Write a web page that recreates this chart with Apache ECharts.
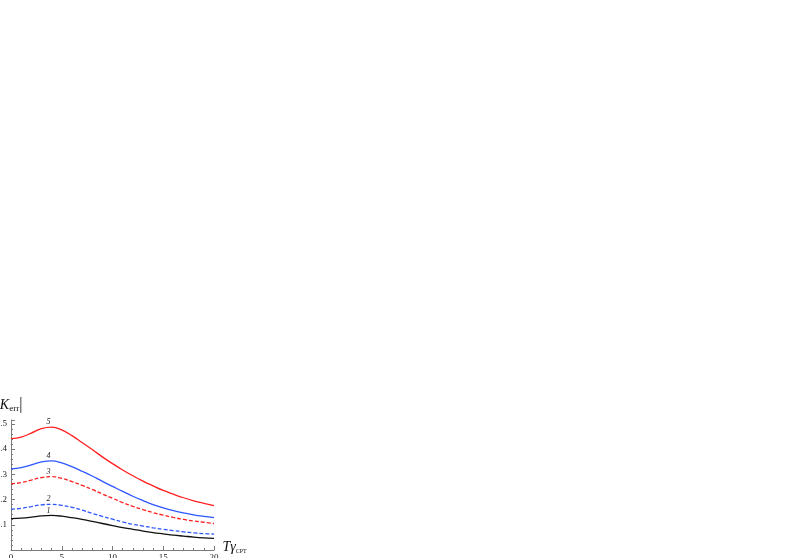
<!DOCTYPE html>
<html>
<head>
<meta charset="utf-8">
<script src="https://cdn.jsdelivr.net/npm/echarts@6/dist/echarts.min.js"></script>
<style>
  html, body { margin: 0; padding: 0; background: #fff; }
  #myLine { width: 789px; height: 558px; }
</style>
</head>
<body>
<div id="myLine"></div>
<script>
// x values of the sampled points (T·γ_CPT)
const xs = [0, 1, 2, 3, 4, 5, 6, 7, 8, 9, 10, 11, 12, 13, 14, 15, 16, 17, 18, 19, 20];
// |K_err| for curves 1..5
const curve1 = [0.124, 0.126, 0.130, 0.135, 0.137, 0.134, 0.128, 0.121, 0.113, 0.105, 0.097, 0.089, 0.082, 0.075, 0.069, 0.064, 0.059, 0.055, 0.051, 0.048, 0.046];
const curve2 = [0.162, 0.165, 0.172, 0.179, 0.181, 0.177, 0.169, 0.158, 0.145, 0.133, 0.122, 0.111, 0.102, 0.095, 0.088, 0.082, 0.077, 0.072, 0.068, 0.065, 0.063];
const curve3 = [0.262, 0.267, 0.277, 0.287, 0.291, 0.284, 0.271, 0.256, 0.240, 0.222, 0.205, 0.188, 0.173, 0.160, 0.148, 0.138, 0.129, 0.121, 0.115, 0.110, 0.105];
const curve4 = [0.321, 0.326, 0.337, 0.349, 0.353, 0.345, 0.330, 0.312, 0.293, 0.272, 0.252, 0.232, 0.213, 0.196, 0.180, 0.167, 0.156, 0.147, 0.139, 0.133, 0.128];
const curve5 = [0.441, 0.447, 0.463, 0.481, 0.487, 0.476, 0.453, 0.426, 0.398, 0.369, 0.342, 0.317, 0.294, 0.273, 0.254, 0.236, 0.221, 0.207, 0.195, 0.185, 0.176];
const curveNames = ["1", "2", "3", "4", "5"];
const xTicks = [0, 5, 10, 15, 20];

const serif = "Liberation Serif";
const axisGray = "#7a7a7a";

function makeSeries(name, values, color, dashed) {
  return {
    name: name,
    type: "line",
    smooth: 0.4,
    symbol: "none",
    data: xs.map((x, i) => [x, values[i]]),
    lineStyle: {
      color: color,
      width: 1.3,
      type: dashed ? [4, 2] : "solid"
    },
    // curve number written just above its maximum
    markPoint: {
      symbol: "circle",
      symbolSize: 0,
      data: [{ type: "max" }],
      label: {
        show: true,
        position: "top",
        distance: 1,
        offset: [-3, 0],
        formatter: name,
        fontFamily: serif,
        fontStyle: "italic",
        fontSize: 8,
        color: "#222"
      }
    }
  };
}

let chart = echarts.init(document.querySelector("#myLine"));
let option = {
  backgroundColor: "#FFF",
  animation: false,
  grid: {
    left: 11,
    right: 575,
    top: 420,
    bottom: 8,
    containLabel: false,
    outerBoundsMode: "none"
  },
  xAxis: {
    type: "value",
    min: 0,
    max: 20,
    interval: 5,
    name: "{t|T}{g|γ}{s|CPT}",
    nameLocation: "end",
    nameGap: 7,
    nameTextStyle: {
      padding: [0, 0, 6, 0],
      rich: {
        t: { fontFamily: serif, fontStyle: "italic", fontSize: 14, color: "#111" },
        g: { fontFamily: serif, fontStyle: "italic", fontSize: 14, color: "#111" },
        s: { fontFamily: serif, fontSize: 6, color: "#111", verticalAlign: "bottom", padding: [6, 0, 0, 0] }
      }
    },
    axisLine: { lineStyle: { color: axisGray, width: 1 } },
    axisTick: { inside: true, length: 4, lineStyle: { color: axisGray } },
    minorTick: { show: true, splitNumber: 5, length: 2, lineStyle: { color: axisGray } },
    axisLabel: {
      margin: 3,
      fontFamily: serif,
      fontSize: 9,
      color: "#222",
      formatter: v => (xTicks.indexOf(v) >= 0 ? String(v) : "")
    },
    splitLine: { show: false }
  },
  yAxis: {
    type: "value",
    min: 0,
    max: 0.515,
    interval: 0.1,
    name: "{b||}{k|K}{s|err}{b||}",
    nameLocation: "end",
    nameGap: 7,
    nameTextStyle: {
      align: "center",
      padding: [0, 3, 0, 0],
      rich: {
        b: { fontFamily: serif, fontSize: 16, color: "#111" },
        k: { fontFamily: serif, fontStyle: "italic", fontSize: 14, color: "#111" },
        s: { fontFamily: serif, fontSize: 9, color: "#111", verticalAlign: "bottom" }
      }
    },
    axisLine: { show: true, lineStyle: { color: axisGray, width: 1 } },
    axisTick: { show: true, inside: true, length: 4, lineStyle: { color: axisGray } },
    minorTick: { show: true, splitNumber: 5, length: 2, lineStyle: { color: axisGray } },
    axisLabel: {
      margin: 4,
      fontFamily: serif,
      fontSize: 9,
      color: "#222",
      formatter: v => {
        let k = Math.round(v * 10);
        return k > 0 && Math.abs(v * 10 - k) < 1e-6 ? (k / 10).toFixed(1) : "";
      }
    },
    splitLine: { show: false }
  },
  series: [
    makeSeries(curveNames[0], curve1, "#111111", false),
    makeSeries(curveNames[1], curve2, "#2d56ff", true),
    makeSeries(curveNames[2], curve3, "#ff1f1f", true),
    makeSeries(curveNames[3], curve4, "#2d56ff", false),
    makeSeries(curveNames[4], curve5, "#ff1f1f", false)
  ]
};
chart.setOption(option);
</script>
</body>
</html>
